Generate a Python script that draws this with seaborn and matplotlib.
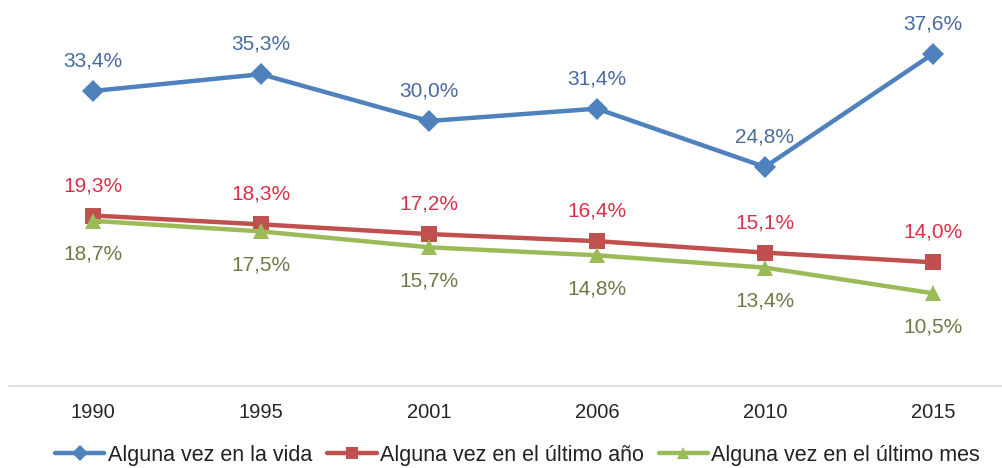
import matplotlib
matplotlib.use("Agg")
import matplotlib.pyplot as plt
import seaborn as sns
import pandas as pd
from matplotlib.lines import Line2D

years = ["1990", "1995", "2001", "2006", "2010", "2015"]
series_names = ["Alguna vez en la vida", "Alguna vez en el último año", "Alguna vez en el último mes"]
vida = [33.4, 35.3, 30.0, 31.4, 24.8, 37.6]
anio = [19.3, 18.3, 17.2, 16.4, 15.1, 14.0]
mes = [18.7, 17.5, 15.7, 14.8, 13.4, 10.5]

line_colors = ["#4F81BD", "#C0504D", "#9BBB59"]
label_colors = ["#4A6A9E", "#D9304A", "#6B7A45"]
markers = ["D", "s", "^"]
label_offsets = [21.5, 21.5, -24]

sns.set_theme(style="white")
plt.rcParams['font.family'] = ['Liberation Sans', 'DejaVu Sans']

rows = []
for name, vals in zip(series_names, [vida, anio, mes]):
    for i, (y, v) in enumerate(zip(years, vals)):
        rows.append({"idx": i, "year": y, "value": v, "serie": name})
df = pd.DataFrame(rows)

fig = plt.figure(figsize=(10.03, 4.68), dpi=100)
ax = fig.add_axes([9/1003, 1 - 386/468, 994/1003, 386/468])

sns.lineplot(data=df, x="idx", y="value", hue="serie", style="serie",
             palette=dict(zip(series_names, line_colors)),
             markers=dict(zip(series_names, markers)), dashes=False,
             linewidth=3.2, markersize=11, markeredgewidth=0, ax=ax, legend=False)

for name, vals, lc, off in zip(series_names, [vida, anio, mes], label_colors, label_offsets):
    for i, v in enumerate(vals):
        ax.annotate(f"{v:.1f}%".replace(".", ","), (i, v), xytext=(0, off),
                    textcoords="offset points", ha="center", va="center",
                    color=lc, fontsize=15)

ax.set_xlim(-0.5, 5.417)
ax.set_ylim(0, 43.7)
ax.set_xticks(range(len(years)))
ax.set_xticklabels(years, fontsize=14.5, color="#262626")
ax.tick_params(axis="x", length=0, pad=12)
ax.set_yticks([])
ax.set_xlabel("")
ax.set_ylabel("")
for s in ["top", "right", "left"]:
    ax.spines[s].set_visible(False)
ax.spines["bottom"].set_color("#D9D9D9")
ax.spines["bottom"].set_linewidth(1.2)

handles = [Line2D([0], [0], color=c, marker=m, lw=3.2, markersize=8, markeredgewidth=0)
           for c, m in zip(line_colors, markers)]
fig.legend(handles, series_names, loc="center", bbox_to_anchor=(0.516, 1 - 455/468),
           ncol=3, frameon=False, fontsize=15.5, handlelength=2.3, handletextpad=0.15,
           columnspacing=0.7, labelcolor="#222222", borderpad=0, borderaxespad=0)

fig.savefig("out.png", dpi=100)
